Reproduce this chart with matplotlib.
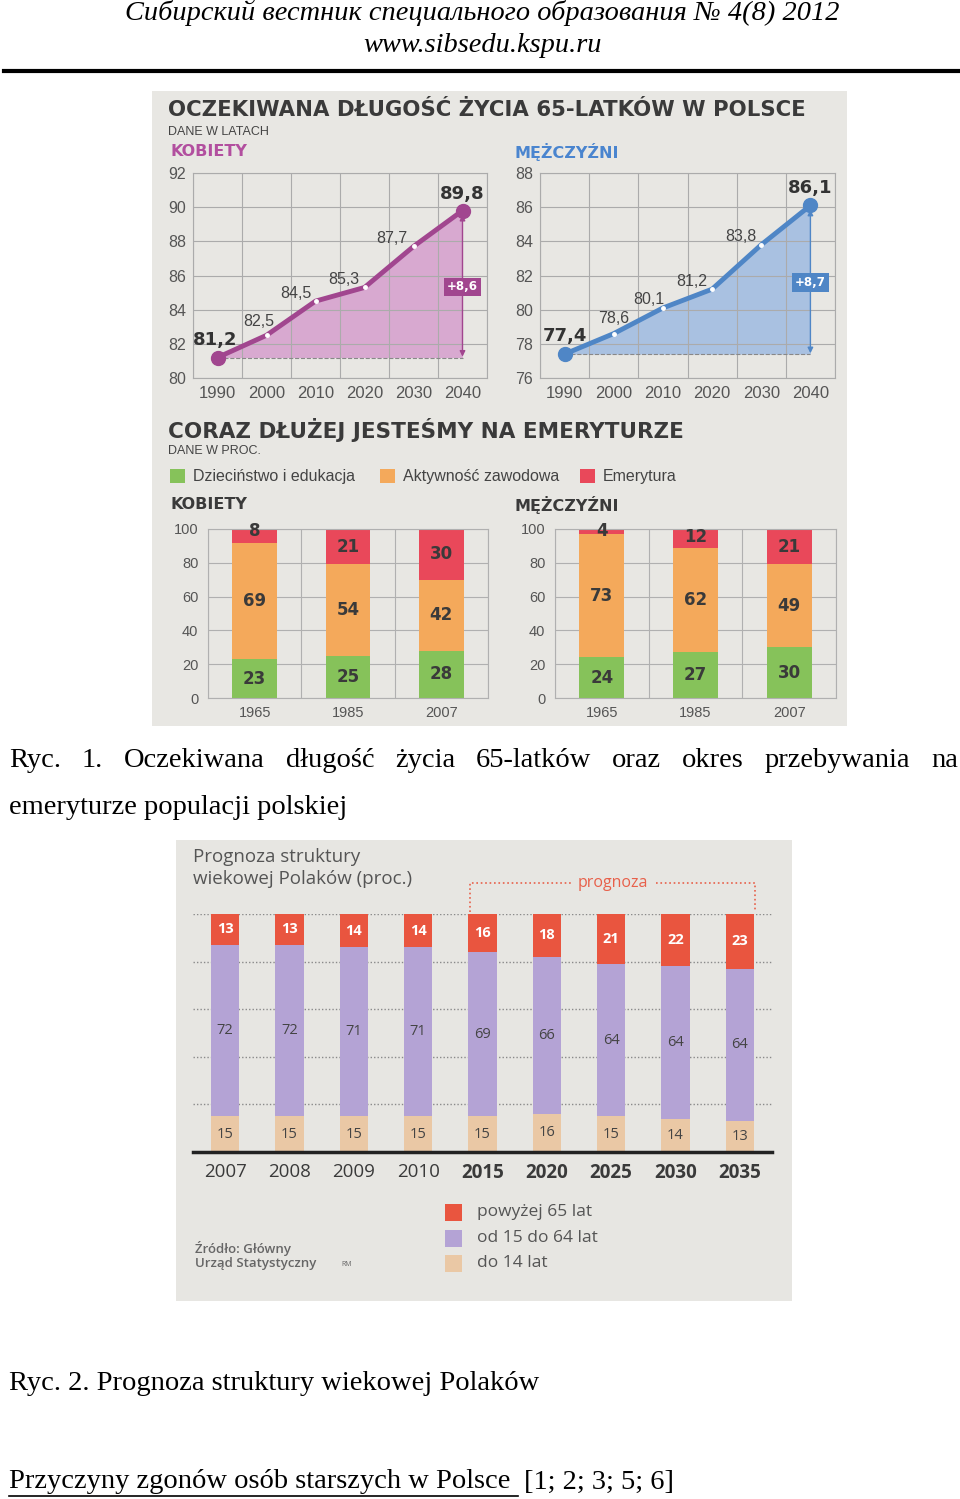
import numpy as np
import matplotlib
matplotlib.use('Agg')
import matplotlib.pyplot as plt
from matplotlib.patches import Rectangle
from matplotlib.lines import Line2D

# --- data ---
years = [1990, 2000, 2010, 2020, 2030, 2040]
women_life = [81.2, 82.5, 84.5, 85.3, 87.7, 89.8]
men_life = [77.4, 78.6, 80.1, 81.2, 83.8, 86.1]

bar_years = ['1965', '1985', '2007']
women_child = [23, 25, 28]
women_work = [69, 54, 42]
women_ret = [8, 21, 30]
men_child = [24, 27, 30]
men_work = [73, 62, 49]
men_ret = [4, 12, 21]
phase_names = ['Dzieciństwo i edukacja', 'Aktywność zawodowa', 'Emerytura']

pop_years = ['2007', '2008', '2009', '2010', '2015', '2020', '2025', '2030', '2035']
over65 = [13, 13, 14, 14, 16, 18, 21, 22, 23]
age15_64 = [72, 72, 71, 71, 69, 66, 64, 64, 64]
under15 = [15, 15, 15, 15, 15, 16, 15, 14, 13]
pop_names = ['powyżej 65 lat', 'od 15 do 64 lat', 'do 14 lat']
first_forecast = 4

W, H = 960, 1499
fig = plt.figure(figsize=(9.6, 14.99), dpi=100)
fig.patch.set_facecolor('white')


def add_ax(x0, y0, x1, y1):
    return fig.add_axes([x0 / W, 1 - y1 / H, (x1 - x0) / W, (y1 - y0) / H])


def txt(x, y, s, **kw):
    kw.setdefault('va', 'center')
    return fig.text(x / W, 1 - y / H, s, **kw)


def rect(x0, y0, x1, y1, c, z=-1):
    fig.add_artist(Rectangle((x0 / W, 1 - y1 / H), (x1 - x0) / W, (y1 - y0) / H,
                             transform=fig.transFigure, facecolor=c,
                             edgecolor='none', zorder=z))


def comma(v):
    return f'{v:.1f}'.replace('.', ',')


serif = 'Liberation Serif'
sans = 'Liberation Sans'
heavy = 'DejaVu Sans'
TITLE_C = '#3a3a3a'

# --- page header ---
txt(482, 13, 'Сибирский вестник специального образования № 4(8) 2012',
    ha='center', family=serif, style='italic', size=20.4)
txt(483, 45, 'www.sibsedu.kspu.ru', ha='center', family=serif,
    style='italic', size=20.4)
fig.add_artist(Line2D([4 / W, 958 / W], [1 - 71 / H] * 2, color='black', lw=3))

# --- first infographic ---
rect(152, 91, 847, 726, '#e8e7e3')
txt(168, 110, 'OCZEKIWANA DŁUGOŚĆ ŻYCIA 65-LATKÓW W POLSCE', family=heavy,
    weight='bold', size=15.3, color=TITLE_C)
txt(168, 132, 'DANE W LATACH', family=sans, size=9, color='#444')
txt(170, 152, 'KOBIETY', family=heavy, weight='bold', size=11.5, color='#b24f9f')
txt(515, 152, 'MĘŻCZYŹNI', family=heavy, weight='bold', size=11.5, color='#4a85cf')


def life_panel(ax, vals, ymin, line_c, fill_c, offs):
    ax.set_facecolor('none')
    ax.set_xlim(1985, 2045)
    ax.set_ylim(ymin, ymin + 12)
    ax.set_xticks(range(1985, 2046, 10))
    ax.set_xticklabels([])
    ax.set_xticks(years, minor=True)
    ax.set_xticklabels([str(y) for y in years], minor=True)
    ax.set_yticks(range(ymin, ymin + 13, 2))
    ax.tick_params(axis='both', which='both', length=0, colors='#555')
    ax.tick_params(axis='x', which='minor', pad=6, labelsize=12)
    ax.tick_params(axis='y', pad=5, labelsize=11.5)
    for lab in ax.get_xticklabels(minor=True) + ax.get_yticklabels():
        lab.set_family(sans)
    ax.grid(True, which='major', color='#ababab', lw=0.8)
    for s in ax.spines.values():
        s.set_color('#ababab')
        s.set_linewidth(0.8)
    ax.fill_between(years, vals, vals[0], color=fill_c, lw=0, zorder=1)
    ax.plot([years[0], years[-1]], [vals[0]] * 2, ls='--', color='#888', lw=0.8, zorder=2)
    ax.annotate('', xy=(years[-1], vals[-1] - 0.25), xytext=(years[-1], vals[0] + 0.05),
                arrowprops=dict(arrowstyle='<|-|>', color=line_c, lw=1.0,
                                mutation_scale=8, shrinkA=0, shrinkB=0), zorder=2)
    ax.plot(years, vals, color=line_c, lw=3.5, zorder=3, solid_capstyle='round')
    ax.plot(years[1:-1], vals[1:-1], 'o', ms=2.5, mfc='white', mec='white', zorder=4)
    ax.plot([years[0], years[-1]], [vals[0], vals[-1]], 'o', ms=10, color=line_c, zorder=4)
    for i, (x, v) in enumerate(zip(years, vals)):
        bold = i in (0, len(vals) - 1)
        ax.annotate(comma(v), (x, v), xytext=offs[i], textcoords='offset pixels',
                    ha='center', va='center', zorder=5,
                    family=heavy if bold else sans,
                    weight='bold' if bold else 'normal',
                    size=13 if bold else 11.5, color='#333' if bold else '#444')
    gain = vals[-1] - vals[0]
    ax.text(years[-1], vals[0] + gain * 0.48, '+' + comma(gain), ha='center', va='center',
            color='white', weight='bold', family=heavy, size=8.5, zorder=6,
            bbox=dict(boxstyle='square,pad=0.25', fc=line_c, ec='none'))


axw = add_ax(193, 173, 487, 378)
life_panel(axw, women_life, 80, '#a1468f', '#d8a9d0',
           [(-2, 17), (-8, 14), (-20, 8), (-21, 8), (-22, 8), (0, 17)])
axm = add_ax(540, 173, 835, 378)
life_panel(axm, men_life, 76, '#4f86c6', '#a9c1e1',
           [(0, 18), (0, 15), (-14, 8), (-20, 8), (-20, 8), (0, 17)])

txt(168, 430, 'CORAZ DŁUŻEJ JESTEŚMY NA EMERYTURZE', family=heavy,
    weight='bold', size=15.5, color=TITLE_C)
txt(168, 451, 'DANE W PROC.', family=sans, size=9, color='#444')
phase_cols = ['#86c25a', '#f4a95b', '#e9485a']
for x0, name, c in zip([170, 380, 580], phase_names, phase_cols):
    rect(x0, 469, x0 + 15, 483, c, z=1)
    txt(x0 + 23, 476, name, family=sans, size=11.5, color='#444')
txt(170, 505, 'KOBIETY', family=heavy, weight='bold', size=11.5, color=TITLE_C)
txt(515, 505, 'MĘŻCZYŹNI', family=heavy, weight='bold', size=11.5, color=TITLE_C)


def phase_panel(ax, child, work, ret):
    ax.set_facecolor('none')
    x = np.arange(len(bar_years))
    ax.set_xlim(-0.5, len(bar_years) - 0.5)
    ax.set_ylim(0, 100)
    ax.set_xticks(np.arange(-0.5, len(bar_years), 1))
    ax.set_xticklabels([])
    ax.set_xticks(x, minor=True)
    ax.set_xticklabels(bar_years, minor=True)
    ax.set_yticks(range(0, 101, 20))
    ax.tick_params(axis='both', which='both', length=0, colors='#555', labelsize=10.5)
    ax.tick_params(axis='x', which='minor', pad=6)
    ax.tick_params(axis='y', pad=7)
    for lab in ax.get_xticklabels(minor=True) + ax.get_yticklabels():
        lab.set_family(sans)
    ax.grid(True, which='major', color='#b0b0b0', lw=0.8, zorder=0)
    ax.set_axisbelow(True)
    for s in ax.spines.values():
        s.set_color('#b0b0b0')
        s.set_linewidth(0.8)
    bottom = np.zeros(len(x))
    for vals, c in zip([child, work, ret], phase_cols):
        ax.bar(x, vals, 0.48, bottom=bottom, color=c, zorder=2)
        for xi, b, v in zip(x, bottom, vals):
            ty = b + v / 2 if v >= 10 else 99
            ax.text(xi, ty, str(v), ha='center', va='center', family=heavy,
                    weight='bold', size=12, color='#3a3a3a', zorder=3, clip_on=False)
        bottom = bottom + np.array(vals)


phase_panel(add_ax(208, 529, 488, 698), women_child, women_work, women_ret)
phase_panel(add_ax(555, 529, 836, 698), men_child, men_work, men_ret)

# --- captions ---
cap1 = 'Ryc. 1. Oczekiwana długość życia 65-latków oraz okres przebywania na'.split(' ')
cap_size = 20.5
words = [txt(9, 761, w, family=serif, size=cap_size, ha='left') for w in cap1]
renderer = fig.canvas.get_renderer()
widths = [w.get_window_extent(renderer).width for w in words]
gap = (958 - 9 - sum(widths)) / (len(words) - 1)
xpos = 9
for w, wd in zip(words, widths):
    w.set_x(xpos / W)
    xpos += wd + gap
txt(9, 808, 'emeryturze populacji polskiej', family=serif, size=cap_size, ha='left')

# --- second infographic ---
rect(176, 840, 792, 1301, '#e7e6e2')
ob = 'Open Sans'
txt(193, 857, 'Prognoza struktury', family=ob, size=13.5, color='#555')
txt(193, 879, 'wiekowej Polaków (proc.)', family=ob, size=13.5, color='#555')

ax = add_ax(193, 914, 772, 1152)
ax.set_facecolor('none')
pos = np.arange(len(pop_years))
ax.set_xlim(-0.5, len(pop_years) - 0.5)
ax.set_ylim(0, 100)
ax.set_yticks(range(20, 101, 20))
ax.yaxis.grid(True, ls=(0, (1, 1.5)), color='#8a8a8a', lw=1.0)
ax.set_axisbelow(True)
ax.tick_params(axis='y', left=False, labelleft=False)
for s in ['top', 'left', 'right']:
    ax.spines[s].set_visible(False)
ax.spines['bottom'].set_color('#222')
ax.spines['bottom'].set_linewidth(2.5)
ax.set_xticks(pos)
ax.set_xticklabels(pop_years)
ax.tick_params(axis='x', length=0, pad=8, labelsize=13.5, colors='#3a3a3a')
for i, lab in enumerate(ax.get_xticklabels()):
    lab.set_family(ob)
    if i >= first_forecast:
        lab.set_weight('bold')
pop_cols = ['#eac8a5', '#b4a3d5', '#e9553f']
bottom = np.zeros(len(pos))
for vals, c, tc in zip([under15, age15_64, over65], pop_cols, ['#444', '#444', 'white']):
    ax.bar(pos, vals, 0.44, bottom=bottom, color=c, zorder=2)
    for xi, b, v in zip(pos, bottom, vals):
        ax.text(xi, b + v / 2, str(v), ha='center', va='center', family=ob,
                size=10.5, weight='bold' if tc == 'white' else 'normal', color=tc, zorder=3)
    bottom = bottom + np.array(vals)

# prognoza bracket
pc = '#e8604a'
lx, rx = first_forecast - 0.19, len(pop_years) - 1 + 0.24
ax.plot([lx, lx, 5.37], [101, 113, 113], ls=':', color=pc, lw=1.2, clip_on=False)
ax.plot([6.7, rx, rx], [113, 113, 101], ls=':', color=pc, lw=1.2, clip_on=False)
ax.text(6.03, 113, 'prognoza', ha='center', va='center', family=ob, size=11.5, color=pc)

for yy, name, c in zip([1212, 1238, 1263], pop_names, pop_cols[::-1]):
    rect(445, yy - 8, 462, yy + 9, c, z=1)
    txt(477, yy, name, family=ob, size=12.5, color='#555')
txt(195, 1249, 'Źródło: Główny', family=ob, weight='semibold', size=9.5, color='#666')
txt(195, 1264, 'Urząd Statystyczny', family=ob, weight='semibold', size=9.5, color='#666')
txt(341, 1264, 'RM', family=ob, size=5, color='#666')

txt(9, 1384, 'Ryc. 2. Prognoza struktury wiekowej Polaków', family=serif,
    size=cap_size, ha='left')
t = txt(9, 1482, 'Przyczyny zgonów osób starszych w Polsce ', family=serif,
        size=cap_size, ha='left')
ul = t.get_window_extent(renderer)
fig.add_artist(Line2D([9 / W, ul.x1 / W], [1 - 1496 / H] * 2, color='black', lw=1.2))
txt(ul.x1 + 6, 1482, '[1; 2; 3; 5; 6]', family=serif, size=cap_size, ha='left')

fig.savefig('out.png', dpi=100)
